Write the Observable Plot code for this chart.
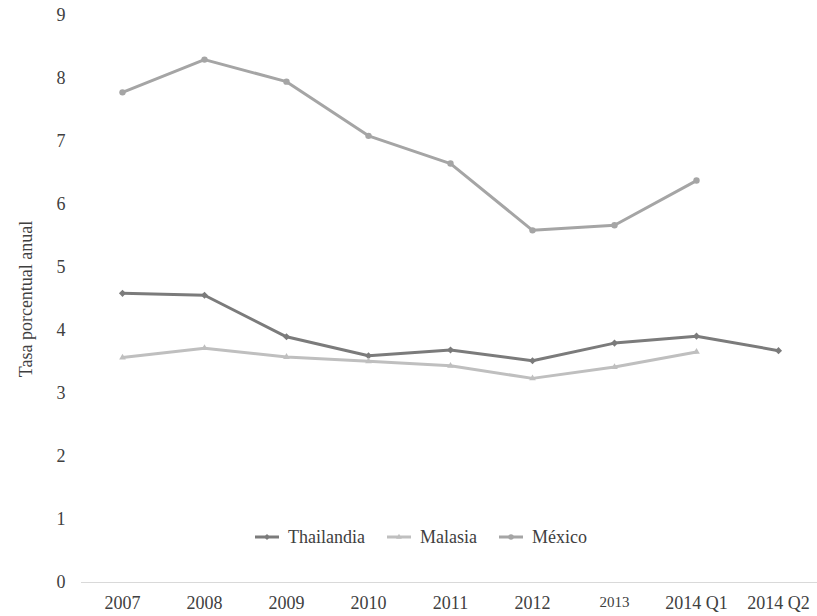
<!DOCTYPE html>
<html>
<head>
<meta charset="utf-8">
<script src="https://cdn.jsdelivr.net/npm/d3@7"></script>
<script src="https://cdn.jsdelivr.net/npm/@observablehq/plot@0.6"></script>
<style>
  html, body { margin: 0; padding: 0; background: #fff; }
  #wrap { position: relative; width: 817px; height: 616px; font-family: "Liberation Serif", "DejaVu Serif", serif; }
  .item { position: absolute; top: 526px; display: flex; align-items: center; gap: 9px; font-family: "Liberation Serif", "DejaVu Serif", serif; font-size: 18px; line-height: 22px; color: #404040; white-space: nowrap; }
  svg text { font-family: "Liberation Serif", "DejaVu Serif", serif; }
</style>
</head>
<body>
<div id="wrap"></div>
<script>
const categories = ["2007", "2008", "2009", "2010", "2011", "2012", "2013", "2014 Q1", "2014 Q2"];
const thailandia = [4.59, 4.56, 3.90, 3.60, 3.69, 3.52, 3.80, 3.91, 3.68];
const malasia = [3.57, 3.72, 3.58, 3.51, 3.44, 3.24, 3.42, 3.66, null];
const mexico = [7.78, 8.30, 7.95, 7.09, 6.65, 5.59, 5.67, 6.38, null];
const seriesNames = ["Thailandia", "Malasia", "México"];
const seriesColors = ["#7b7b7b", "#bfbfbf", "#a5a5a5"];
const seriesSymbols = ["diamond2", "triangle2", "circle"];
const yTicks = [0, 1, 2, 3, 4, 5, 6, 7, 8, 9];
const smallTickLabels = ["2013"];
const legendLeft = [255, 387, 499];

const allSeries = [thailandia, malasia, mexico];
const data = [];
allSeries.forEach((vals, si) => {
  vals.forEach((v, i) => {
    if (v != null) data.push({serie: seriesNames[si], cat: categories[i], value: v});
  });
});

const chart = Plot.plot({
  width: 817,
  height: 616,
  marginLeft: 81,
  marginRight: 0,
  marginTop: 15,
  marginBottom: 34,
  style: {fontFamily: "'Liberation Serif', 'DejaVu Serif', serif", fontSize: "18px", color: "#404040", background: "#fff"},
  x: {type: "point", domain: categories, range: [122, 778], padding: 0},
  y: {domain: [0, 9], range: [582, 15]},
  color: {domain: seriesNames, range: seriesColors},
  symbol: {domain: seriesNames, range: seriesSymbols},
  marks: [
    Plot.ruleY([0], {stroke: "#d9d9d9", strokeWidth: 1.2}),
    Plot.axisY({ticks: yTicks, tickSize: 0, tickPadding: 16, label: null, fontSize: 18}),
    Plot.axisX({tickSize: 0, tickPadding: 14, label: null, fontSize: (d) => smallTickLabels.includes(d) ? 15 : 18}),
    Plot.text(["Tasa porcentual anual"], {frameAnchor: "left", textAnchor: "middle", dx: -55, rotate: -90, fontSize: 18, fill: "#404040"}),
    Plot.line(data, {x: "cat", y: "value", z: "serie", stroke: "serie", strokeWidth: 3}),
    Plot.dot(data, {x: "cat", y: "value", fill: "serie", symbol: "serie", r: 3.2, stroke: null})
  ]
});
document.getElementById("wrap").prepend(chart);

const symScale = Plot.scale({symbol: {domain: seriesNames, range: seriesSymbols}});
const wrap = d3.select("#wrap");
seriesNames.forEach((name, i) => {
  const item = wrap.append("div").attr("class", "item").style("left", legendLeft[i] + "px");
  const svg = item.append("svg").attr("width", 24).attr("height", 10);
  svg.append("line").attr("x1", 0).attr("x2", 24).attr("y1", 5).attr("y2", 5)
    .attr("stroke", seriesColors[i]).attr("stroke-width", 3);
  const sym = d3.symbol(symScale.apply(name), 24)();
  svg.append("path").attr("d", sym).attr("transform", "translate(12,5)").attr("fill", seriesColors[i]);
  item.append("span").text(name);
});
</script>
</body>
</html>
